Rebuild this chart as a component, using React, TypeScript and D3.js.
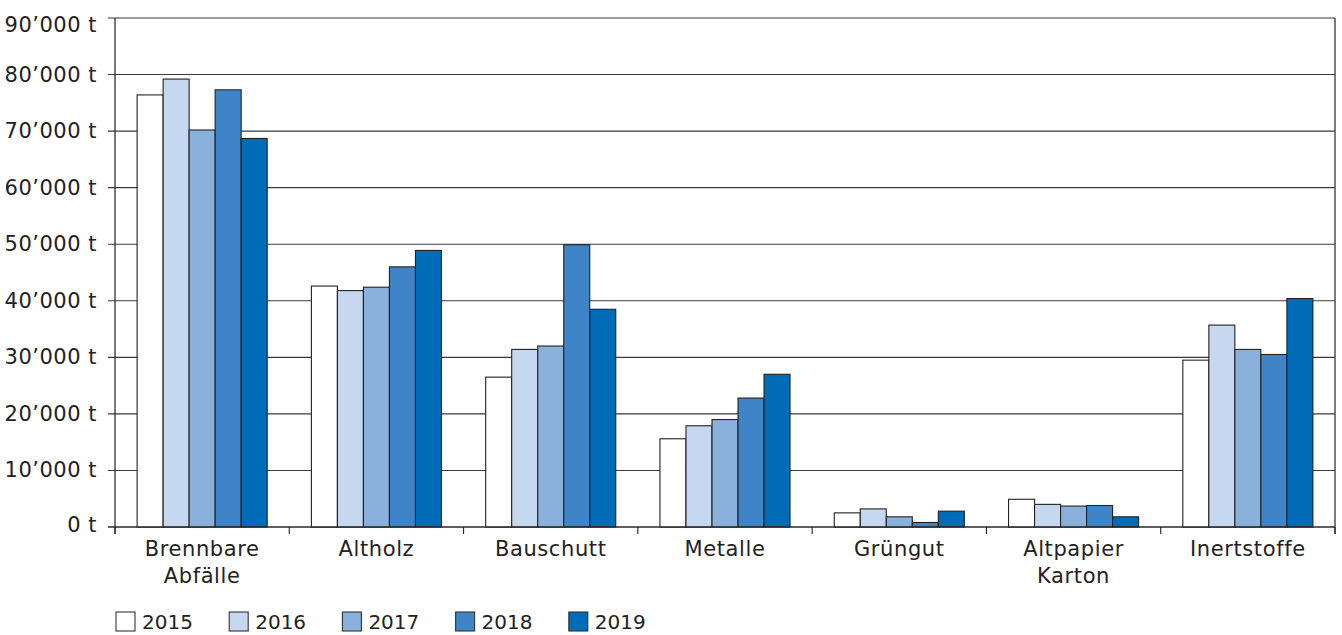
import React from "react";
import * as d3 from "d3";

const categories = [
  ["Brennbare", "Abfälle"],
  ["Altholz"],
  ["Bauschutt"],
  ["Metalle"],
  ["Grüngut"],
  ["Altpapier", "Karton"],
  ["Inertstoffe"],
];
const years = ["2015", "2016", "2017", "2018", "2019"];
const values2015 = [76400, 42600, 26500, 15600, 2500, 4900, 29500];
const values2016 = [79200, 41800, 31400, 17900, 3200, 4000, 35700];
const values2017 = [70200, 42400, 32000, 19000, 1800, 3700, 31400];
const values2018 = [77300, 46000, 49900, 22800, 800, 3800, 30500];
const values2019 = [68700, 48900, 38500, 27000, 2800, 1800, 40400];
const series = [values2015, values2016, values2017, values2018, values2019];
const colors = ["#ffffff", "#c5d8ef", "#89b1dc", "#3f84c6", "#006bb6"];
const yTicks = [0, 10000, 20000, 30000, 40000, 50000, 60000, 70000, 80000, 90000];

const W = 1342;
const H = 635;
const left = 115;
const right = 1335;
const top = 18;
const bottom = 527;

const fmt = (v: number) => {
  const s = String(v);
  if (v >= 1000) return s.slice(0, s.length - 3) + "\u2019" + s.slice(s.length - 3) + " t";
  return s + " t";
};

export default function App() {
  const keys = categories.map((c) => c.join(" "));
  const x = d3.scaleBand<string>().domain(keys).range([left, right]).padding(0);
  const xi = d3
    .scaleBand<string>()
    .domain(years)
    .range([0, x.bandwidth()])
    .paddingInner(0)
    .paddingOuter(0.85);
  const y = d3.scaleLinear().domain([0, 90000]).range([bottom, top]);
  const font = "'DejaVu Sans', sans-serif";
  const boundaries = keys.map((k) => x(k)!).concat([right]);

  return (
    <svg
      width={W}
      height={H}
      style={{ position: "absolute", left: 0, top: 0, background: "#fff" }}
    >
      {/* gridlines */}
      {yTicks.map((t) => (
        <g key={t}>
          <line x1={left - 7} x2={right} y1={y(t)} y2={y(t)} stroke="#3a3a3a" strokeWidth={1.1} />
          <text
            x={97}
            y={Math.min(Math.max(y(t), 24.5), 524.5)}
            textAnchor="end"
            dominantBaseline="central"
            fontFamily={font}
            fontSize={21}
            letterSpacing={0.5}
            fill="#222"
          >
            {fmt(t)}
          </text>
        </g>
      ))}
      {/* bars */}
      {keys.map((k, ci) => (
        <g key={k} transform={`translate(${x(k)},0)`}>
          {series.map((s, si) => (
            <rect
              key={si}
              x={xi(years[si])!}
              y={y(s[ci])}
              width={xi.bandwidth()}
              height={bottom - y(s[ci])}
              fill={colors[si]}
              stroke="#222"
              strokeWidth={1.1}
            />
          ))}
        </g>
      ))}
      {/* axes */}
      <line x1={left} x2={left} y1={top} y2={bottom + 7} stroke="#222" strokeWidth={1.2} />
      <line x1={right} x2={right} y1={top} y2={bottom + 7} stroke="#444" strokeWidth={1.4} />
      <line x1={left - 7} x2={right} y1={bottom} y2={bottom} stroke="#222" strokeWidth={1.2} />
      {boundaries.map((b, i) => (
        <line key={i} x1={b} x2={b} y1={bottom} y2={bottom + 7} stroke="#222" strokeWidth={1.1} />
      ))}
      {/* category labels */}
      {categories.map((c, ci) => (
        <text
          key={ci}
          textAnchor="middle"
          fontFamily={font}
          fontSize={21}
          letterSpacing={0.6}
          fill="#222"
        >
          {c.map((line, li) => (
            <tspan key={li} x={x(keys[ci])! + x.bandwidth() / 2} y={556 + li * 27}>
              {line}
            </tspan>
          ))}
        </text>
      ))}
      {/* legend */}
      {years.map((yr, i) => (
        <g key={yr} transform={`translate(${116 + i * 113.2},612)`}>
          <rect x={0} y={0} width={19} height={19} fill={colors[i]} stroke="#333" strokeWidth={1.1} />
          <text x={26} y={17} fontFamily={font} fontSize={20} fill="#222">
            {yr}
          </text>
        </g>
      ))}
    </svg>
  );
}
